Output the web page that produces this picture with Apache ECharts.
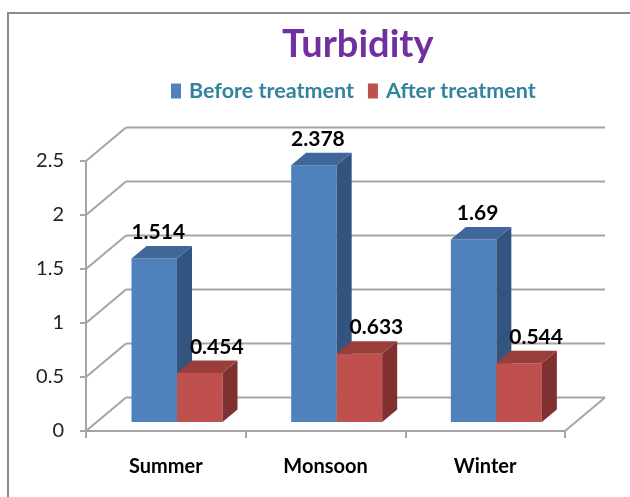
<!DOCTYPE html>
<html>
<head>
<meta charset="utf-8">
<script src="https://cdn.jsdelivr.net/npm/echarts@6/dist/echarts.min.js"></script>
<style>html,body{margin:0;padding:0;background:#fff;}#c{width:630px;height:497px;}</style>
</head>
<body>
<div id="c"></div>
<script>
const categories = ['Summer', 'Monsoon', 'Winter'];
const beforeTreatment = [1.514, 2.378, 1.69];
const afterTreatment = [0.454, 0.633, 0.544];
const yTicks = [0, 0.5, 1, 1.5, 2, 2.5];
const seriesNames = ['Before treatment', 'After treatment'];

const FONT = 'Lato';
const GRID_COLOR = '#A5A5A5';
const DEPTH = [40, -33.5];
const faces = [
  { front: '#4F81BD', top: '#3F679A', side: '#33547F', labelDx: 4 },
  { front: '#C0504D', top: '#9A3E3C', side: '#7E3130', labelDx: 17 }
];

function barRenderer(si) {
  return function (params, api) {
    const cat = api.value(0), v = api.value(1);
    const base = api.coord([cat, 0]);
    const top = api.coord([cat, v]);
    const band = api.size([1, 0])[0];
    const bw = band * 0.285;
    const offX = band * 0.07, offY = -9;
    const dd = [15, -12.5];
    const x0 = si === 0 ? base[0] + offX - bw : base[0] + offX;
    const x1 = x0 + bw;
    const yb = base[1] + offY, yt = top[1] + offY;
    const f = faces[si];
    return {
      type: 'group',
      children: [
        { type: 'rect', shape: { x: x0, y: yt, width: bw, height: yb - yt }, style: { fill: f.front } },
        { type: 'polygon', shape: { points: [[x1, yt], [x1 + dd[0], yt + dd[1]], [x1 + dd[0], yb + dd[1]], [x1, yb]] }, style: { fill: f.side } },
        { type: 'polygon', shape: { points: [[x0, yt], [x1, yt], [x1 + dd[0], yt + dd[1]], [x0 + dd[0], yt + dd[1]]] }, style: { fill: f.top } },
        { type: 'text', z2: 10, style: { text: String(v), x: (x0 + x1) / 2 + f.labelDx, y: yt + dd[1] - 3, align: 'center', verticalAlign: 'bottom', font: 'bold 21px ' + FONT, fill: '#000' } }
      ]
    };
  };
}

function wallRenderer(params, api) {
  const v = api.value(0);
  const cs = params.coordSys;
  const p = api.coord([0, v]);
  const y = p[1];
  const x0 = cs.x, x1 = cs.x + cs.width;
  const st = { stroke: GRID_COLOR, lineWidth: 2 };
  const children = [
    { type: 'line', shape: { x1: x0, y1: y, x2: x0 + DEPTH[0], y2: y + DEPTH[1] }, style: st },
    { type: 'line', shape: { x1: x0 + DEPTH[0], y1: y + DEPTH[1], x2: x1 + DEPTH[0], y2: y + DEPTH[1] }, style: st }
  ];
  if (v === 0) {
    children.push({ type: 'line', shape: { x1: x1, y1: y, x2: x1 + DEPTH[0], y2: y + DEPTH[1] }, style: st });
  }
  return { type: 'group', children };
}

const chart = echarts.init(document.getElementById('c'), null, { renderer: 'canvas' });
chart.setOption({
  animation: false,
  backgroundColor: '#fff',
  graphic: [{ type: 'rect', shape: { x: 8, y: 13, width: 800, height: 700 }, style: { fill: 'none', stroke: '#8C8C8C', lineWidth: 2 }, z: -10 }],
  title: {
    text: 'Turbidity', left: 277, top: 21,
    textStyle: { fontFamily: FONT, fontSize: 38, fontWeight: 'bold', color: '#7030A0' }
  },
  legend: {
    data: seriesNames, left: 166, top: 75, icon: 'rect', itemWidth: 10, itemHeight: 15, itemGap: 14,
    textStyle: { fontFamily: FONT, fontSize: 21.5, fontWeight: 'bold', color: '#31849B', padding: [0, 0, 0, 3] }
  },
  grid: { left: 86, right: 65, top: 161, bottom: 66 },
  xAxis: {
    type: 'category', data: categories,
    axisLine: { lineStyle: { color: GRID_COLOR, width: 2 } },
    axisTick: { show: true, length: 7, lineStyle: { color: GRID_COLOR, width: 2 } },
    axisLabel: { margin: 26, fontFamily: FONT, fontSize: 20, fontWeight: 'bold', color: '#000' },
    splitLine: { show: false }
  },
  yAxis: {
    type: 'value', min: 0, max: 2.5, interval: 0.5,
    axisLine: { show: true, lineStyle: { color: GRID_COLOR, width: 2 } },
    axisTick: { show: true, length: 6, lineStyle: { color: GRID_COLOR, width: 2 } },
    axisLabel: { margin: 22, fontFamily: FONT, fontSize: 20, color: '#222', formatter: v => String(v) },
    splitLine: { show: false }
  },
  series: [
    { type: 'custom', name: '_wall', silent: true, data: yTicks.map(v => [v]), encode: { y: 0 }, renderItem: wallRenderer, z: 1 },
    { type: 'custom', name: seriesNames[0], itemStyle: { color: faces[0].front }, data: beforeTreatment.map((v, i) => [i, v]), encode: { x: 0, y: 1 }, renderItem: barRenderer(0), z: 2 },
    { type: 'custom', name: seriesNames[1], itemStyle: { color: faces[1].front }, data: afterTreatment.map((v, i) => [i, v]), encode: { x: 0, y: 1 }, renderItem: barRenderer(1), z: 2 }
  ]
});
</script>
</body>
</html>
